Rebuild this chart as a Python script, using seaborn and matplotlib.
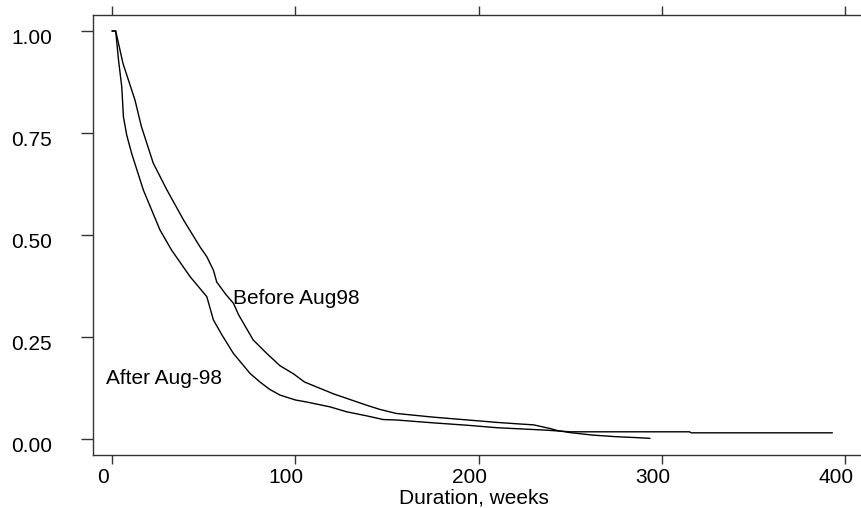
import matplotlib
matplotlib.use("Agg")
import matplotlib.pyplot as plt
import matplotlib.transforms as mtransforms
import pandas as pd
import seaborn as sns

# Kaplan-Meier survival estimates
before_weeks = [0, 2, 6, 12.5, 16, 22.5, 30, 39, 48, 51.7, 55.3, 57.1, 62, 66.2, 69, 77,
                84.4, 91.6, 99, 105, 120.8, 139, 146, 155, 175, 194, 210, 223, 230, 239,
                243, 250, 262, 275, 285, 293.5]
before_surv = [1.0, 1.0, 0.92, 0.831, 0.766, 0.676, 0.61, 0.537, 0.471, 0.447, 0.414, 0.385,
               0.355, 0.333, 0.305, 0.243, 0.21, 0.18, 0.16, 0.14, 0.111, 0.083, 0.073, 0.063,
               0.054, 0.047, 0.041, 0.037, 0.035, 0.026, 0.021, 0.016, 0.010, 0.006, 0.004, 0.002]

after_weeks = [0, 2, 3.5, 5.3, 6.2, 8, 10.7, 17.1, 26.2, 32.5, 42.6, 48, 51.7, 55.3, 60, 66.2,
               75.3, 80.7, 86, 91.6, 100, 106.2, 119, 128, 139, 148, 155, 175, 194, 210, 219,
               237, 250, 315, 316, 393]
after_surv = [1.0, 1.0, 0.93, 0.863, 0.79, 0.745, 0.70, 0.61, 0.512, 0.463, 0.398, 0.369, 0.349,
              0.292, 0.255, 0.21, 0.161, 0.14, 0.122, 0.108, 0.096, 0.091, 0.079, 0.067, 0.057,
              0.048, 0.047, 0.040, 0.034, 0.028, 0.026, 0.022, 0.018, 0.018, 0.0155, 0.0155]

x_ticks = [0, 100, 200, 300, 400]
y_ticks = [0.0, 0.25, 0.50, 0.75, 1.00]

df_before = pd.DataFrame({"weeks": before_weeks, "surv": before_surv})
df_after = pd.DataFrame({"weeks": after_weeks, "surv": after_surv})

sns.set_style("white")
plt.rcParams['font.family'] = ['Liberation Sans', 'DejaVu Sans']
plt.rcParams['text.color'] = 'black'
plt.rcParams['axes.labelcolor'] = 'black'
plt.rcParams['xtick.color'] = 'black'
plt.rcParams['ytick.color'] = 'black'

fs = 15

fig = plt.figure(figsize=(8.61, 5.08), dpi=100)
ax = fig.add_axes([0.108, 0.105, 0.892, 0.8645])

sns.lineplot(data=df_before, x="weeks", y="surv", color="black", lw=1.0, sort=False, ax=ax)
sns.lineplot(data=df_after, x="weeks", y="surv", color="black", lw=1.0, sort=False, ax=ax)

ax.text(66.2, 0.331, "Before Aug98", fontsize=fs, ha="left", va="baseline")
ax.text(-3.3, 0.135, "After Aug-98", fontsize=fs, ha="left", va="baseline")

ax.set_xlim(-10.4, 408.6)
ax.set_ylim(-0.038, 1.038)
ax.set_xticks(x_ticks)
ax.set_yticks(y_ticks)
ax.set_yticklabels([f"{v:.2f}" for v in y_ticks])
ax.set_xlabel("Duration, weeks", fontsize=fs)
ax.xaxis.set_label_coords(0.496, -0.077)
ax.xaxis.label.set_va("top")
ax.set_ylabel("")

for side in ["left", "top", "bottom"]:
    ax.spines[side].set_visible(True)
    ax.spines[side].set_color("#333333")
    ax.spines[side].set_linewidth(1.0)
ax.spines["right"].set_visible(False)

ax.tick_params(axis="y", direction="out", length=8.5, width=1, color="#333333",
               pad=21, labelsize=fs, left=True)
ax.tick_params(axis="x", direction="out", length=6.5, width=1, color="#333333",
               pad=3, labelsize=fs, bottom=True, top=True)

# tick labels sit slightly off their ticks in the original
x_shift = mtransforms.ScaledTranslation(-0.09, 0, fig.dpi_scale_trans)
y_shift = mtransforms.ScaledTranslation(0, -0.05, fig.dpi_scale_trans)
for lab in ax.get_xticklabels():
    lab.set_transform(lab.get_transform() + x_shift)
for lab in ax.get_yticklabels():
    lab.set_transform(lab.get_transform() + y_shift)

fig.savefig("out.png", dpi=100)
